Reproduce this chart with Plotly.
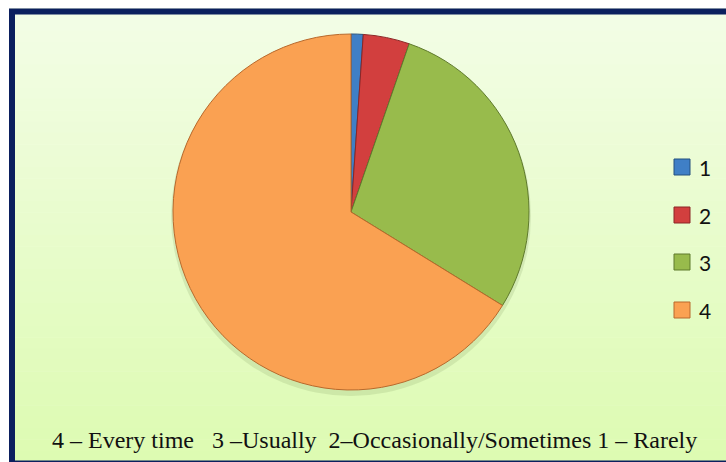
import plotly.graph_objects as go

labels = ["1", "2", "3", "4"]
values = [1.1, 4.2, 28.5, 66.2]
colors = ["#3F7FC6", "#D23F3E", "#98BB4C", "#FAA152"]
edge_colors = ["#24507F", "#8C2626", "#5F7A2C", "#B8692C"]
caption = "4 – Every time\u00a0\u00a0 3 –Usually\u00a0 2–Occasionally/Sometimes 1 – Rarely"

W, H = 726, 462

def px(x):
    return x / W

def py(y):
    return 1 - y / H

shapes = []
# gradient background inside frame
top = (243, 253, 230)
bot = (221, 251, 178)
n = 40
y0, y1 = 8, 462
for i in range(n):
    t = i / (n - 1)
    c = tuple(int(round(top[k] + (bot[k] - top[k]) * t)) for k in range(3))
    ya = y0 + (y1 - y0) * i / n
    yb = y0 + (y1 - y0) * (i + 1) / n + 0.5
    shapes.append(dict(type="rect", xref="paper", yref="paper",
                       x0=px(9), x1=px(W + 5), y0=py(yb), y1=py(ya),
                       fillcolor="rgb(%d,%d,%d)" % c, line=dict(width=0), layer="below"))
# frame
shapes.append(dict(type="rect", xref="paper", yref="paper",
                   x0=px(12), x1=px(W + 10), y0=py(463.5), y1=py(11.5),
                   fillcolor="rgba(0,0,0,0)", line=dict(color="#0B1F5E", width=6), layer="above"))
# soft shadow under pie
shapes.append(dict(type="circle", xref="paper", yref="paper",
                   x0=px(351 - 180), x1=px(351 + 180), y0=py(212 + 184), y1=py(212 - 176),
                   fillcolor="rgba(120,150,90,0.18)", line=dict(width=0), layer="below"))

annotations = []
leg_y = [167, 215, 262, 310]
for lab, col, ec, yy in zip(labels, colors, edge_colors, leg_y):
    shapes.append(dict(type="rect", xref="paper", yref="paper",
                       x0=px(674), x1=px(690), y0=py(yy + 8), y1=py(yy - 8),
                       fillcolor=col, line=dict(color=ec, width=1)))
    annotations.append(dict(text=lab, xref="paper", yref="paper", x=px(697), y=py(yy),
                            xanchor="left", yanchor="middle", showarrow=False,
                            font=dict(family="Lato, Open Sans, sans-serif", size=21, color="#111111")))

annotations.append(dict(text=caption, xref="paper", yref="paper", x=px(374), y=py(440),
                        xanchor="center", yanchor="middle", showarrow=False,
                        font=dict(family="Liberation Serif, Times New Roman, serif", size=24, color="#111111")))

cx, cy, r = 351, 212, 178
fig = go.Figure(go.Pie(
    labels=labels, values=values, sort=False, direction="clockwise", rotation=0,
    marker=dict(colors=colors, line=dict(color=edge_colors, width=1)),
    textinfo="none", hoverinfo="label+value", showlegend=False,
    domain=dict(x=[px(cx - r), px(cx + r)], y=[py(cy + r), py(cy - r)]),
))

fig.update_layout(
    width=W, height=H, margin=dict(l=0, r=0, t=0, b=0),
    paper_bgcolor="white", plot_bgcolor="white",
    shapes=shapes, annotations=annotations, showlegend=False,
)
fig.write_html("out.html", config={"displayModeBar": False},
               post_script="document.body.style.margin='0';document.body.style.overflow='hidden';")
